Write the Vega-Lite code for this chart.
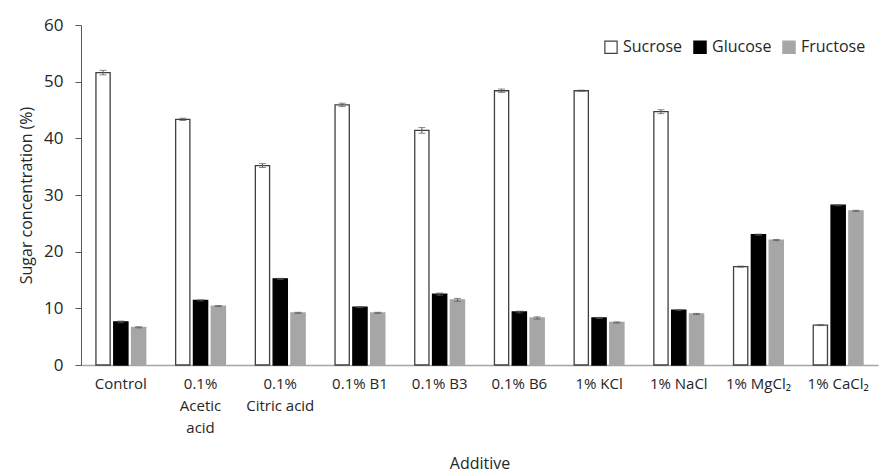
{
  "$schema": "https://vega.github.io/schema/vega-lite/v6.json",
  "autosize": "none",
  "width": 797,
  "height": 340,
  "padding": {"left": 81, "top": 25, "right": 2, "bottom": 108},
  "background": "white",
  "data": {
    "values": [
      {"additive": "Control", "sugar": "Sucrose", "value": 51.6, "lo": 51.2, "hi": 52.0},
      {"additive": "Control", "sugar": "Glucose", "value": 7.6, "lo": 7.45, "hi": 7.75},
      {"additive": "Control", "sugar": "Fructose", "value": 6.65, "lo": 6.55, "hi": 6.75},
      {"additive": "0.1%|Acetic|acid", "sugar": "Sucrose", "value": 43.35, "lo": 43.15, "hi": 43.55},
      {"additive": "0.1%|Acetic|acid", "sugar": "Glucose", "value": 11.4, "lo": 11.3, "hi": 11.5},
      {"additive": "0.1%|Acetic|acid", "sugar": "Fructose", "value": 10.4, "lo": 10.3, "hi": 10.5},
      {"additive": "0.1%|Citric acid", "sugar": "Sucrose", "value": 35.2, "lo": 34.85, "hi": 35.55},
      {"additive": "0.1%|Citric acid", "sugar": "Glucose", "value": 15.2, "lo": 15.1, "hi": 15.3},
      {"additive": "0.1%|Citric acid", "sugar": "Fructose", "value": 9.2, "lo": 9.1, "hi": 9.3},
      {"additive": "0.1% B1", "sugar": "Sucrose", "value": 45.9, "lo": 45.6, "hi": 46.2},
      {"additive": "0.1% B1", "sugar": "Glucose", "value": 10.2, "lo": 10.1, "hi": 10.3},
      {"additive": "0.1% B1", "sugar": "Fructose", "value": 9.2, "lo": 9.1, "hi": 9.3},
      {"additive": "0.1% B3", "sugar": "Sucrose", "value": 41.4, "lo": 40.9, "hi": 41.9},
      {"additive": "0.1% B3", "sugar": "Glucose", "value": 12.5, "lo": 12.3, "hi": 12.7},
      {"additive": "0.1% B3", "sugar": "Fructose", "value": 11.5, "lo": 11.25, "hi": 11.75},
      {"additive": "0.1% B6", "sugar": "Sucrose", "value": 48.4, "lo": 48.1, "hi": 48.7},
      {"additive": "0.1% B6", "sugar": "Glucose", "value": 9.35, "lo": 9.2, "hi": 9.5},
      {"additive": "0.1% B6", "sugar": "Fructose", "value": 8.3, "lo": 8.1, "hi": 8.5},
      {"additive": "1% KCl", "sugar": "Sucrose", "value": 48.4, "lo": 48.3, "hi": 48.5},
      {"additive": "1% KCl", "sugar": "Glucose", "value": 8.3, "lo": 8.2, "hi": 8.4},
      {"additive": "1% KCl", "sugar": "Fructose", "value": 7.5, "lo": 7.4, "hi": 7.6},
      {"additive": "1% NaCl", "sugar": "Sucrose", "value": 44.7, "lo": 44.35, "hi": 45.05},
      {"additive": "1% NaCl", "sugar": "Glucose", "value": 9.7, "lo": 9.6, "hi": 9.8},
      {"additive": "1% NaCl", "sugar": "Fructose", "value": 9.0, "lo": 8.9, "hi": 9.1},
      {"additive": "1% MgCl₂", "sugar": "Sucrose", "value": 17.35, "lo": 17.25, "hi": 17.45},
      {"additive": "1% MgCl₂", "sugar": "Glucose", "value": 23.0, "lo": 22.9, "hi": 23.1},
      {"additive": "1% MgCl₂", "sugar": "Fructose", "value": 22.05, "lo": 21.95, "hi": 22.15},
      {"additive": "1% CaCl₂", "sugar": "Sucrose", "value": 7.05, "lo": 6.95, "hi": 7.15},
      {"additive": "1% CaCl₂", "sugar": "Glucose", "value": 28.2, "lo": 28.1, "hi": 28.3},
      {"additive": "1% CaCl₂", "sugar": "Fructose", "value": 27.2, "lo": 27.1, "hi": 27.3}
    ]
  },
  "encoding": {
    "x": {
      "field": "additive",
      "type": "nominal",
      "sort": null,
      "scale": {"paddingInner": 0.375, "paddingOuter": 0.1875},
      "axis": {
        "title": "Additive",
        "labelExpr": "split(datum.label, '|')",
        "labelAngle": 0,
        "labelFont": "Open Sans",
        "labelFontSize": 15,
        "labelColor": "#262626",
        "labelLineHeight": 22,
        "labelPadding": 11,
        "labelLimit": 200,
        "tickSize": 0,
        "domainColor": "#a6a6a6",
        "domainWidth": 1.5,
        "titleFont": "Open Sans",
        "titleFontSize": 16,
        "titleFontWeight": "normal",
        "titleColor": "#262626",
        "titlePadding": 20
      }
    },
    "xOffset": {
      "field": "sugar",
      "type": "nominal",
      "sort": ["Sucrose", "Glucose", "Fructose"],
      "scale": {"paddingInner": 0.2}
    }
  },
  "layer": [
    {
      "mark": {"type": "bar", "strokeWidth": 1.3},
      "encoding": {
        "y": {
          "field": "value",
          "type": "quantitative",
          "scale": {"domain": [0, 60]},
          "axis": {
            "title": "Sugar concentration (%)",
            "values": [0, 10, 20, 30, 40, 50, 60],
            "grid": false,
            "labelFont": "Open Sans",
            "labelFontSize": 17,
            "labelColor": "#262626",
            "labelPadding": 12,
            "tickSize": 6,
            "tickColor": "#595959",
            "domainColor": "#595959",
            "titleFont": "Open Sans",
            "titleFontSize": 16,
            "titleFontWeight": "normal",
            "titleColor": "#262626",
            "titlePadding": 9
          }
        },
        "color": {
          "field": "sugar",
          "type": "nominal",
          "sort": ["Sucrose", "Glucose", "Fructose"],
          "scale": {"domain": ["Sucrose", "Glucose", "Fructose"], "range": ["#ffffff", "#000000", "#a6a6a6"]},
          "title": null
        },
        "stroke": {
          "field": "sugar",
          "type": "nominal",
          "sort": ["Sucrose", "Glucose", "Fructose"],
          "scale": {"domain": ["Sucrose", "Glucose", "Fructose"], "range": ["#404040", "#000000", "#a6a6a6"]},
          "title": null
        }
      }
    },
    {
      "mark": {"type": "rule", "color": "#595959", "strokeWidth": 1},
      "encoding": {
        "y": {"field": "lo", "type": "quantitative"},
        "y2": {"field": "hi"}
      }
    },
    {
      "mark": {"type": "tick", "color": "#595959", "size": 7, "thickness": 1},
      "encoding": {
        "y": {"field": "lo", "type": "quantitative"}
      }
    },
    {
      "mark": {"type": "tick", "color": "#595959", "size": 7, "thickness": 1},
      "encoding": {
        "y": {"field": "hi", "type": "quantitative"}
      }
    }
  ],
  "config": {
    "view": {"stroke": null},
    "legend": {
      "orient": "none",
      "legendX": 522,
      "legendY": 14,
      "direction": "horizontal",
      "symbolType": "square",
      "symbolSize": 150,
      "symbolStrokeWidth": 1.2,
      "labelFont": "Open Sans",
      "labelFontSize": 16,
      "labelColor": "#262626",
      "labelOffset": 4,
      "columnPadding": 8
    }
  }
}
